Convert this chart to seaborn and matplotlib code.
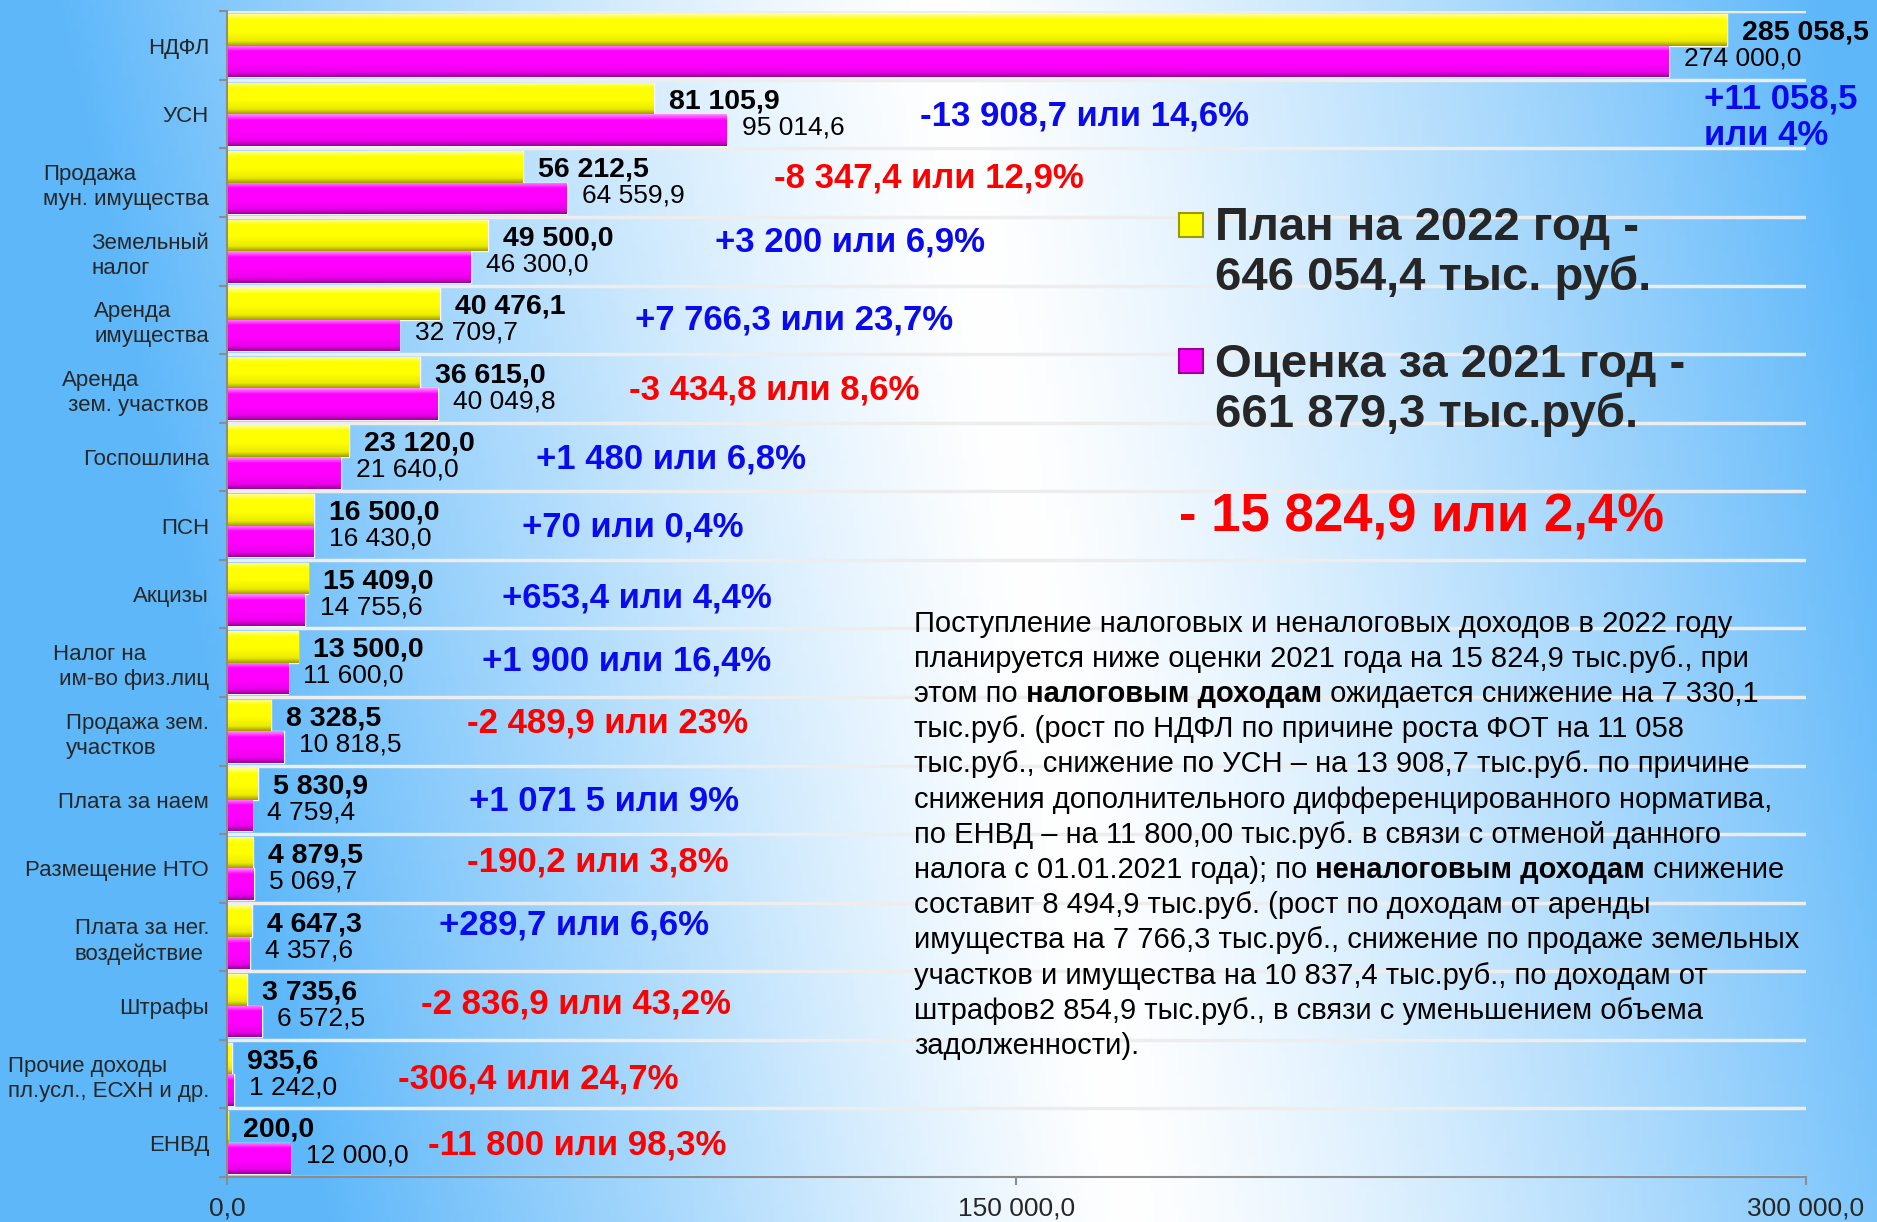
import numpy as np
import pandas as pd
import matplotlib
matplotlib.use('Agg')
import matplotlib.pyplot as plt
import seaborn as sns

# --- data ---
categories = ['НДФЛ', 'УСН', 'Продажа\nмун. имущества', 'Земельный\nналог',
              'Аренда\nимущества', 'Аренда\n зем. участков', 'Госпошлина', 'ПСН',
              'Акцизы', 'Налог на\n им-во физ.лиц', 'Продажа зем.\nучастков',
              'Плата за наем', 'Размещение НТО', 'Плата за нег.\nвоздействие',
              'Штрафы', 'Прочие доходы\nпл.усл., ЕСХН и др.', 'ЕНВД']
plan_2022 = [285058.5, 81105.9, 56212.5, 49500.0, 40476.1, 36615.0, 23120.0,
             16500.0, 15409.0, 13500.0, 8328.5, 5830.9, 4879.5, 4647.3,
             3735.6, 935.6, 200.0]
est_2021 = [274000.0, 95014.6, 64559.9, 46300.0, 32709.7, 40049.8, 21640.0,
            16430.0, 14755.6, 11600.0, 10818.5, 4759.4, 5069.7, 4357.6,
            6572.5, 1242.0, 12000.0]
diff_labels = ['+11 058,5\nили 4%', '-13 908,7 или 14,6%', '-8 347,4 или 12,9%',
               '+3 200 или 6,9%', '+7 766,3 или 23,7%', '-3 434,8 или 8,6%',
               '+1 480 или 6,8%', '+70 или 0,4%', '+653,4 или 4,4%',
               '+1 900 или 16,4%', '-2 489,9 или 23%', '+1 071 5 или 9%',
               '-190,2 или 3,8%', '+289,7 или 6,6%', '-2 836,9 или 43,2%',
               '-306,4 или 24,7%', '-11 800 или 98,3%']
# blue / red as in the original slide (УСН is blue there)
diff_colors = ['b', 'b', 'r', 'b', 'b', 'r', 'b', 'b', 'b', 'b', 'r', 'b',
               'r', 'b', 'r', 'r', 'r']
series_names = ['План на 2022 год -\n646 054,4 тыс. руб.',
                'Оценка за 2021 год -\n661 879,3 тыс.руб.']
total_diff = '- 15 824,9 или 2,4%'
x_ticks = [0, 150000, 300000]

# layout of the difference labels (data x, offset in rows)
diff_x = [280700, 131700, 103900, 92800, 77600, 76400, 58700, 56000, 52300,
          48400, 45500, 45900, 45500, 40300, 36800, 32500, 38200]
diff_dy = [1.05, 0.03, -0.07, -0.14, 0.0, 0.02, 0.03, 0.02, 0.05, -0.03,
           -0.12, 0.02, -0.09, -0.17, -0.03, 0.07, 0.03]

note_lines = [
    [('Поступление налоговых и неналоговых доходов в 2022 году', False)],
    [('планируется ниже оценки 2021 года на 15 824,9 тыс.руб., при', False)],
    [('этом по', False), (' налоговым доходам', True), (' ожидается снижение на 7 330,1', False)],
    [('тыс.руб. (рост по НДФЛ по причине роста ФОТ на 11 058', False)],
    [('тыс.руб., снижение по УСН – на 13 908,7 тыс.руб. по причине', False)],
    [('снижения дополнительного дифференцированного норматива,', False)],
    [('по ЕНВД – на 11 800,00 тыс.руб. в связи с отменой данного', False)],
    [('налога с 01.01.2021 года); по', False), (' неналоговым доходам', True), (' снижение', False)],
    [('составит 8 494,9 тыс.руб. (рост по доходам от аренды', False)],
    [('имущества на 7 766,3 тыс.руб., снижение по продаже земельных', False)],
    [('участков и имущества на 10 837,4 тыс.руб., по доходам от', False)],
    [('штрафов2 854,9 тыс.руб., в связи с уменьшением объема', False)],
    [('задолженности).', False)],
]

df = pd.DataFrame({
    'Статья': categories * 2,
    'Показатель': [series_names[0]] * len(categories) + [series_names[1]] * len(categories),
    'Значение': plan_2022 + est_2021,
})

sns.set_theme(style='white')
plt.rcParams['font.family'] = ['Liberation Sans', 'DejaVu Sans']

W, H = 1877, 1222
fig = plt.figure(figsize=(W / 100, H / 100), dpi=100)

# background: blue edges with a white diagonal glow
bg_ax = fig.add_axes([0, 0, 1, 1], zorder=-10)
gx, gy = np.meshgrid(np.linspace(0, 1, 400), np.linspace(0, 1, 300))
centre = 0.50 + 0.10 * gy
t = np.clip(np.abs(gx - centre) / 0.47, 0, 1) ** 1.3
left_boost = np.clip((centre - gx) / 0.25, 0, 1)
t = np.clip(t + 0.12 * gy * left_boost, 0, 1)
white = np.array([1.0, 1.0, 1.0])
blue = np.array([0.37, 0.72, 0.98])
bg = white[None, None, :] * (1 - t[..., None]) + blue[None, None, :] * t[..., None]
bg_ax.imshow(bg, aspect='auto', extent=(0, 1, 0, 1), origin='upper')
bg_ax.axis('off')

ax = fig.add_axes([0.121, 0.0368, 0.841, 0.954])
ax.patch.set_alpha(0)

palette = {series_names[0]: '#FFFF00', series_names[1]: '#FF00FF'}
sns.barplot(data=df, x='Значение', y='Статья', hue='Показатель', orient='h',
            palette=palette, saturation=1, width=0.92, gap=0, legend=False,
            errorbar=None, ax=ax, zorder=3)


def shade(rgb_top, rgb_mid, rgb_bot):
    s = np.linspace(0, 1, 60)
    stops = [0, 0.18, 0.55, 0.85, 1.0]
    cols = np.array([rgb_top, rgb_mid, rgb_mid, [c * 0.92 for c in rgb_mid], rgb_bot])
    arr = np.stack([np.interp(s, stops, cols[:, k]) for k in range(3)], axis=-1)
    return arr[:, None, :]


grads = [shade([1, 1, 0.55], [1, 1, 0], [0.62, 0.62, 0.0]),
         shade([1, 0.55, 1], [1, 0, 1], [0.6, 0.0, 0.6])]
for cont, g in zip(ax.containers, grads):
    for bar in cont:
        x0, y0 = bar.get_x(), bar.get_y()
        w, h = bar.get_width(), bar.get_height()
        im = ax.imshow(g, extent=(x0, x0 + w, y0 + h, y0), aspect='auto',
                       zorder=3.5, origin='upper')
        im.set_clip_path(bar)


def fmt(v):
    return f'{v:,.1f}'.replace(',', ' ').replace('.', ',')


for cont, bold, dy in zip(ax.containers, [True, False], [-2, 2]):
    for bar in cont:
        yc = bar.get_y() + bar.get_height() / 2
        ax.annotate(fmt(bar.get_width()), xy=(bar.get_width(), yc),
                    xytext=(11, dy), textcoords='offset points', va='center',
                    ha='left', fontsize=20.5 if bold else 19,
                    fontweight='bold' if bold else 'normal', color='black',
                    zorder=6)

for i, lab in enumerate(diff_labels):
    col = '#0A0AEE' if diff_colors[i] == 'b' else '#FF0000'
    ax.text(diff_x[i], i + diff_dy[i], lab, color=col, fontsize=25,
            fontweight='bold', ha='left', va='center', linespacing=1.12,
            zorder=6)

ax.set_xlim(0, 300000)
ax.set_ylim(len(categories) - 0.5, -0.5)
ax.set_xlabel('')
ax.set_ylabel('')
ax.set_xticks(x_ticks)
ax.set_xticklabels([fmt(v) for v in x_ticks], fontsize=19)
ax.set_yticks(range(len(categories)))
ax.set_yticklabels(categories, fontsize=16, linespacing=1.25)
for lbl in ax.get_yticklabels():
    lbl.set_multialignment('left')
ax.set_yticks(np.arange(-0.5, len(categories), 1), minor=True)
ax.tick_params(axis='y', which='major', length=0, pad=13)
ax.tick_params(axis='y', which='minor', length=6, width=1.5, color='#8C8C8C',
               direction='out', left=True)
ax.tick_params(axis='x', which='major', length=6, width=1.5, color='#8C8C8C',
               direction='out', bottom=True, pad=8)
ax.grid(False)
ax.grid(True, which='minor', axis='y', color='#EDEDED', linewidth=2.5, zorder=1)
ax.set_axisbelow(True)
for side in ['top', 'right']:
    ax.spines[side].set_visible(False)
for side in ['left', 'bottom']:
    ax.spines[side].set_color('#8C8C8C')
    ax.spines[side].set_linewidth(1.5)
    ax.spines[side].set_zorder(5)

# legend block drawn as text
fig_y = lambda py: 1 - py / H
for name, col, edge, my, ty in [(series_names[0], '#FFFF00', '#9A9A00', 225, 253),
                                (series_names[1], '#FF00FF', '#990099', 361, 390)]:
    fig.add_artist(plt.Line2D([1191 / W], [fig_y(my)], marker='s', markersize=17,
                              markerfacecolor=col, markeredgecolor=edge,
                              markeredgewidth=1.5, linestyle='none'))
    fig.text(1215 / W, fig_y(ty), name, fontsize=34, fontweight='bold',
             ha='left', va='center', linespacing=1.17)

fig.text(1179 / W, fig_y(517), total_diff, fontsize=38, fontweight='bold',
         color='#FF0000', ha='left', va='center')

# explanatory note, line by line so bold parts can be mixed in
for k, line in enumerate(note_lines):
    y = fig_y(623.6 + 35.2 * k)
    prev = None
    for seg, bold in line:
        kw = dict(fontsize=21, fontweight='bold' if bold else 'normal',
                  color='black', ha='left')
        if prev is None:
            prev = fig.text(914 / W, y, seg, va='center', **kw)
        else:
            prev = ax.annotate(seg, xy=(1, 0), xycoords=prev, va='bottom',
                               annotation_clip=False, **kw)

fig.savefig('out.png', dpi=100)
